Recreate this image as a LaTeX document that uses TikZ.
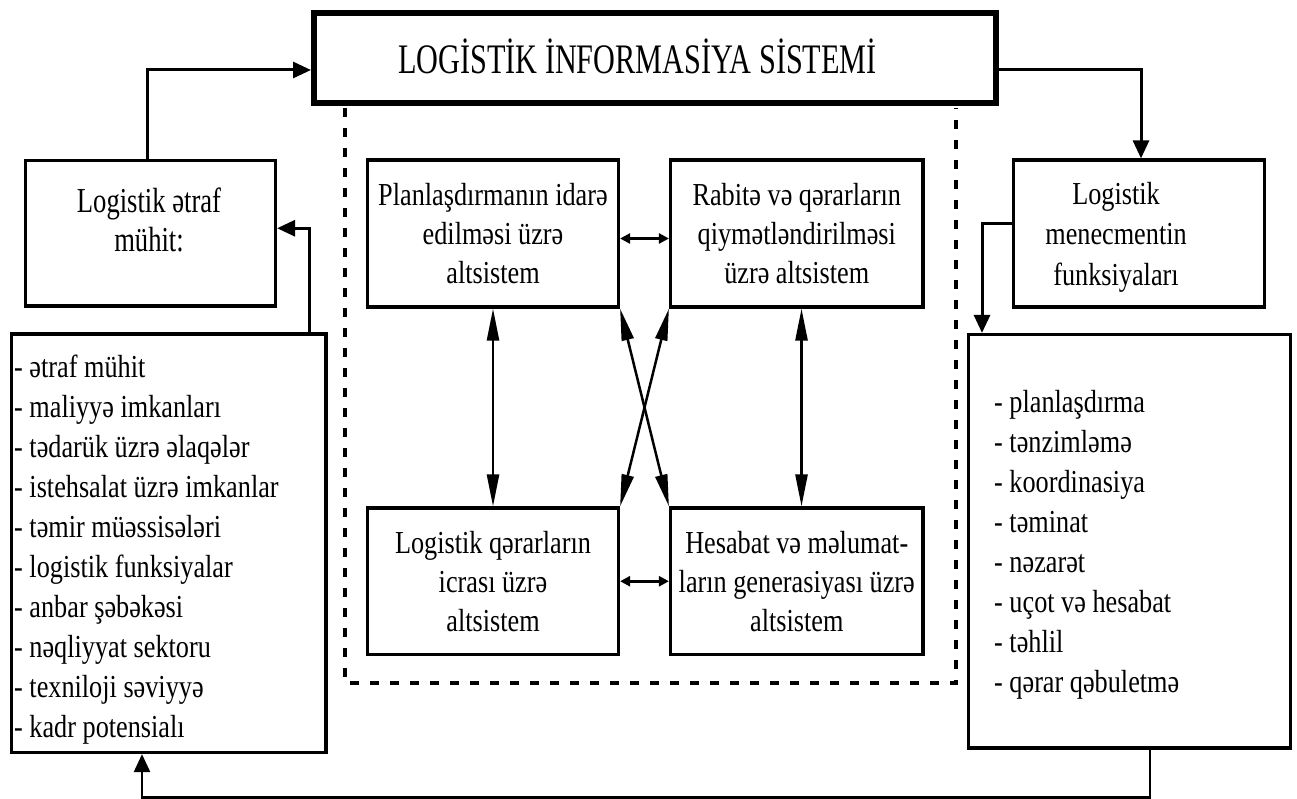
\documentclass[tikz,border=0pt]{standalone}
\usepackage{fontspec}
\setmainfont{Liberation Serif}[FakeStretch=0.82]
\newfontfamily\titlefont{Liberation Serif}[FakeStretch=0.72]
\newfontfamily\envfont{Liberation Serif}[FakeStretch=0.76]
\usetikzlibrary{arrows.meta}
\tikzset{
  bigtip/.tip={Triangle[length=18pt,width=16pt]},
  longtip/.tip={Triangle[length=32pt,width=12pt]},
  smalltip/.tip={Triangle[length=10pt,width=10pt]},
  box/.style={draw, line width=3.2pt, inner sep=0pt, align=center,
    font=\fontsize{32}{39}\selectfont},
  txt/.style={inner sep=0pt, align=center, font=\fontsize{32}{39}\selectfont},
  item/.style={inner sep=0pt, anchor=base west, font=\fontsize{32}{40}\selectfont},
  conn/.style={line width=3pt},
  dblconn/.style={line width=2.5pt, {longtip}-{longtip}},
  smallconn/.style={line width=3pt, {smalltip}-{smalltip}},
  dashbox/.style={line width=3.5pt, dash pattern=on 9pt off 11pt}
}
\begin{document}
\begin{tikzpicture}[x=1pt,y=-1pt]
\useasboundingbox (0,0) rectangle (1297,799);
\fill[white] (0,0) rectangle (1297,799);

% dashed frame
\draw[dashbox] (345,108) -- (345,683) -- (956,683) -- (956,108);

% title
\node[draw, line width=6pt, minimum width=682pt, minimum height=90pt, inner sep=0pt] (title) at (655,58) {};
\node[inner sep=0pt, anchor=base, font=\titlefont\fontsize{42}{42}\selectfont] (titletext) at (637.5,74) {LOGİSTİK İNFORMASİYA SİSTEMİ};

% inner boxes
\node[box, minimum width=251pt, minimum height=147pt] (P) at (493,233.5) {Planlaşdırmanın idarə\\edilməsi üzrə\\altsistem};
\node[box, minimum width=252.5pt, minimum height=147pt] (R) at (796.75,233.5) {Rabitə və qərarların\\qiymətləndirilməsi\\üzrə altsistem};
\node[box, minimum width=251pt, minimum height=146.5pt] (L) at (493,581.25) {Logistik qərarların\\icrası üzrə\\altsistem};
\node[box, minimum width=252.5pt, minimum height=146.5pt] (H) at (796.75,581.25) {Hesabat və məlumat-\\ların generasiyası üzrə\\altsistem};

% left side
\node[box, minimum width=250pt, minimum height=145.5pt] (env) at (150.5,233.25) {};
\node[txt, font=\envfont\fontsize{35}{39}\selectfont] (envtext) at (149,220) {Logistik ətraf\\mühit:};
\node[box, minimum width=314.5pt, minimum height=418.5pt] (llist) at (168.75,543.25) {};
\foreach \t [count=\i from 0] in {- ətraf mühit, - maliyyə imkanları, - tədarük üzrə əlaqələr, - istehsalat üzrə imkanlar, - təmir müəssisələri, - logistik funksiyalar, - anbar şəbəkəsi, - nəqliyyat sektoru, - texniloji səviyyə, - kadr potensialı}
  \node[item] (la\i) at (14,{377+40.1*\i}) {\t};

% right side
\node[box, minimum width=251pt, minimum height=147pt] (rbox) at (1139,233.5) {};
\node[txt, font=\fontsize{32}{40.5}\selectfont] (rboxtext) at (1116,237) {Logistik\\menecmentin\\funksiyaları};
\node[box, minimum width=322pt, minimum height=413.5pt] (rlist) at (1129.5,541.25) {};
\foreach \t [count=\i from 0] in {- planlaşdırma, - tənzimləmə, - koordinasiya, - təminat, - nəzarət, - uçot və hesabat, - təhlil, - qərar qəbuletmə}
  \node[item] (ra\i) at (994,{412+40*\i}) {\t};

% connectors
\draw[conn, -{bigtip}] ([xshift=-3.5pt]env.north) |- ([yshift=-12pt]title.west);
\draw[conn, -{bigtip}] ([yshift=-12pt]title.east) -| ([xshift=2pt]rbox.north);
\draw[conn, -{bigtip}] ([xshift=140.25pt]llist.north) |- ([yshift=5pt]env.east);
\draw[conn, -{bigtip}] ([yshift=9.5pt]rbox.west) -| ([xshift=-147.5pt]rlist.north);
\draw[line width=2.5pt, -{bigtip}] ([xshift=20.5pt]rlist.south) -- ++(0,48) -| ([xshift=-26.75pt]llist.south);

\draw[smallconn] ([yshift=-5pt]P.east) -- ([yshift=-5pt]R.west);
\draw[smallconn] (L.east) -- (H.west);
\draw[dblconn] (P.south) -- (L.north);
\draw[dblconn] ([xshift=4.75pt]R.south) -- ([xshift=4.75pt]H.north);
\draw[dblconn] (P.south east) -- (H.north west);
\draw[dblconn] (R.south west) -- (L.north east);
\end{tikzpicture}
\end{document}
